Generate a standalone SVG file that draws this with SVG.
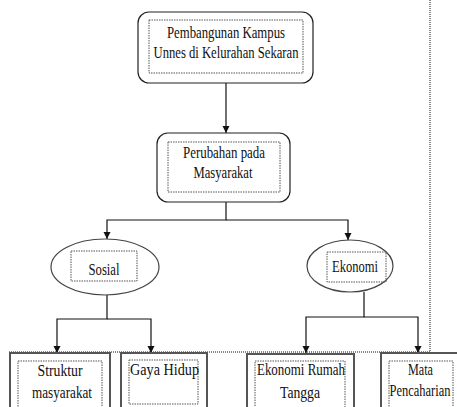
<svg xmlns="http://www.w3.org/2000/svg" width="457" height="407" viewBox="0 0 457 407">
<defs>
<style>
text{font-family:"Liberation Serif","Times New Roman",serif;font-size:17px;fill:#111;text-anchor:middle}
.rbox{fill:#fff;stroke:#222;stroke-width:1.2}
.ell{fill:#fff;stroke:#444;stroke-width:1.2}
.inner{fill:none;stroke:#555;stroke-width:1;stroke-dasharray:1.5 1}
.obox{fill:#fff;stroke:#555;stroke-width:2}
.conn{fill:none;stroke:#111;stroke-width:1.2}
.frame{fill:none;stroke:#888;stroke-width:2;stroke-dasharray:1 1}
</style>
<marker id="arr" markerWidth="8" markerHeight="8" refX="7" refY="4" orient="auto" markerUnits="userSpaceOnUse">
<path d="M0,0.5 L7,4 L0,7.5 Z" fill="#111"/>
</marker>
</defs>
<rect width="457" height="407" fill="#fff"/>
<g id="frame">
<path class="frame" d="M430,0 V352 H8"/>
</g>
<g id="connectors">
<path class="conn" d="M226,83 V133" marker-end="url(#arr)"/>
<path class="conn" d="M226,202 V220 H107 V239" marker-end="url(#arr)"/>
<path class="conn" d="M226,220 H348 V240" marker-end="url(#arr)"/>
<path class="conn" d="M107,295 V319 H57 V353" marker-end="url(#arr)"/>
<path class="conn" d="M107,319 H151 V353" marker-end="url(#arr)"/>
<path class="conn" d="M364,292 V317 H306 V353" marker-end="url(#arr)"/>
<path class="conn" d="M364,317 H418 V353" marker-end="url(#arr)"/>
</g>
<g id="n-pembangunan">
<rect class="rbox" x="138" y="12" width="175" height="71" rx="11"/>
<rect class="inner" x="149" y="20" width="154" height="53"/>
<text x="226" y="38" textLength="118" lengthAdjust="spacingAndGlyphs">Pembangunan Kampus</text>
<text x="226" y="58" textLength="145" lengthAdjust="spacingAndGlyphs">Unnes di Kelurahan Sekaran</text>
</g>
<g id="n-perubahan">
<rect class="rbox" x="157" y="133" width="133" height="69" rx="11"/>
<rect class="inner" x="168" y="142" width="112" height="50"/>
<text x="224" y="158" textLength="82" lengthAdjust="spacingAndGlyphs">Perubahan pada</text>
<text x="223" y="178" textLength="59" lengthAdjust="spacingAndGlyphs">Masyarakat</text>
</g>
<g id="n-sosial">
<ellipse class="ell" cx="105" cy="267" rx="54" ry="28"/>
<rect class="inner" x="71" y="251" width="66" height="30"/>
<text x="104" y="275" textLength="31" lengthAdjust="spacingAndGlyphs">Sosial</text>
</g>
<g id="n-ekonomi">
<ellipse class="ell" cx="350" cy="266" rx="43" ry="26"/>
<rect class="inner" x="327" y="252" width="59" height="30"/>
<text x="355" y="272" textLength="46" lengthAdjust="spacingAndGlyphs">Ekonomi</text>
</g>
<g id="n-struktur">
<rect class="obox" x="10" y="353" width="100" height="60"/>
<rect class="inner" x="18" y="361" width="84" height="50"/>
<text x="60" y="376" textLength="45" lengthAdjust="spacingAndGlyphs">Struktur</text>
<text x="62" y="398" textLength="60" lengthAdjust="spacingAndGlyphs">masyarakat</text>
</g>
<g id="n-gaya">
<rect class="obox" x="121" y="353" width="86" height="60"/>
<rect class="inner" x="129" y="360" width="69" height="44"/>
<text x="164.5" y="375" textLength="69" lengthAdjust="spacingAndGlyphs">Gaya Hidup</text>
</g>
<g id="n-ekonomi-rt">
<rect class="obox" x="247" y="354" width="107" height="60"/>
<rect class="inner" x="255" y="361" width="90" height="50"/>
<text x="301" y="375" textLength="88" lengthAdjust="spacingAndGlyphs">Ekonomi Rumah</text>
<text x="300" y="398" textLength="40" lengthAdjust="spacingAndGlyphs">Tangga</text>
</g>
<g id="n-mata">
<rect class="obox" x="381" y="353" width="90" height="60"/>
<rect class="inner" x="389" y="361" width="64" height="50"/>
<text x="420.5" y="375" textLength="25" lengthAdjust="spacingAndGlyphs">Mata</text>
<text x="420" y="396" textLength="61" lengthAdjust="spacingAndGlyphs">Pencaharian</text>
</g>
</svg>
